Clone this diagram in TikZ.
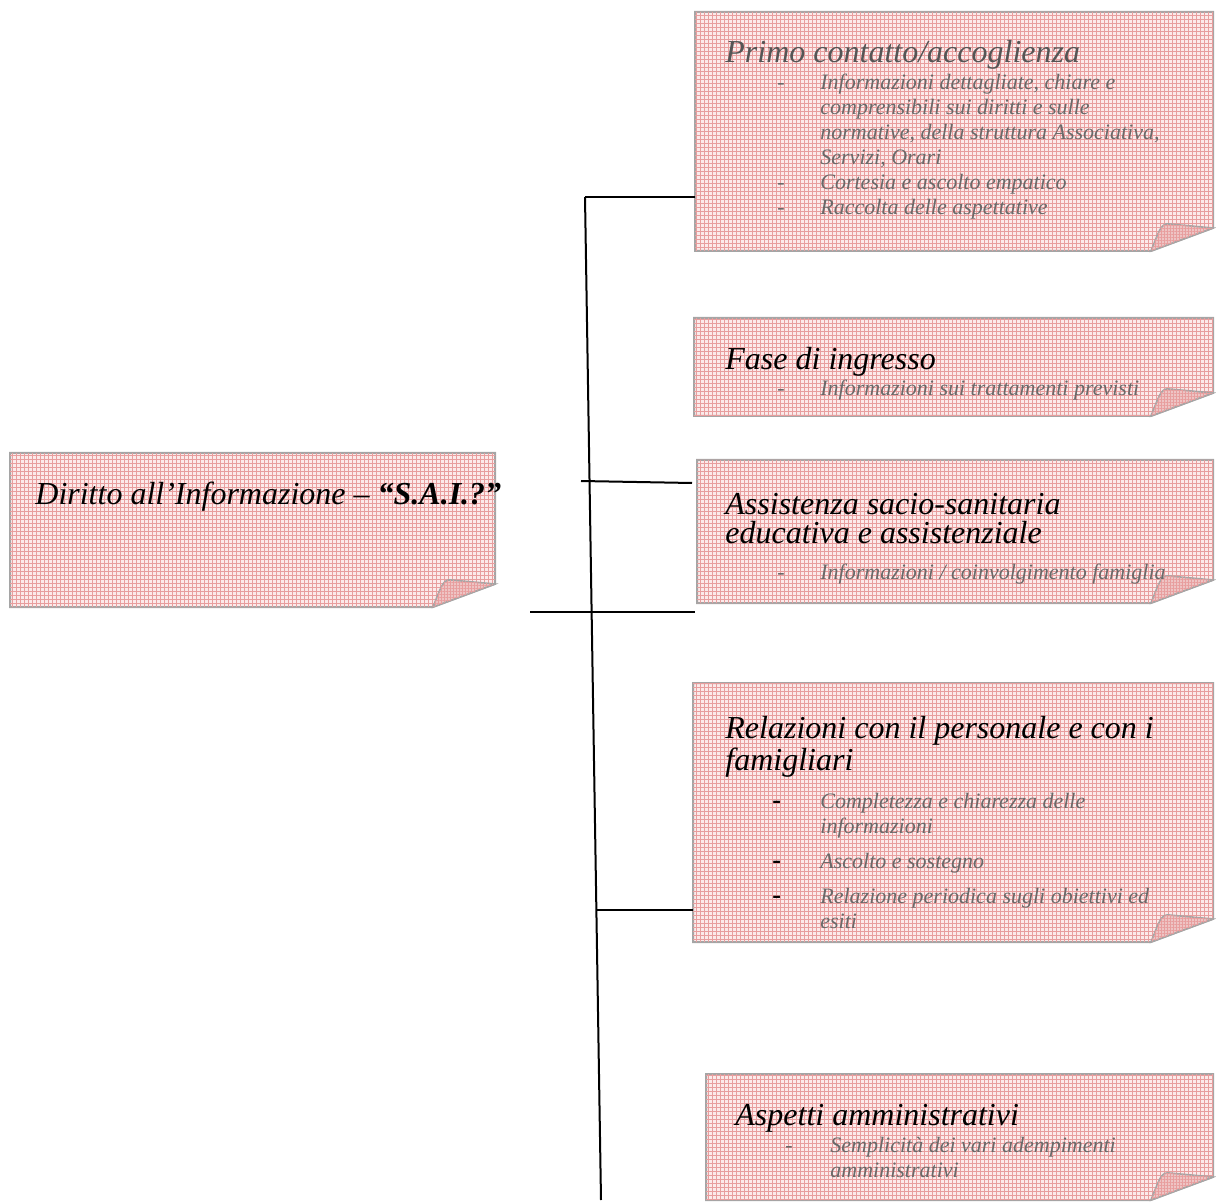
\documentclass[tikz,border=0pt]{standalone}
\usepackage{fontspec}
\setmainfont{Liberation Serif}
\usetikzlibrary{patterns.meta}

\definecolor{carta}{RGB}{252,234,234}
\definecolor{quadretti}{RGB}{232,158,158}
\definecolor{piegacol}{RGB}{238,196,196}
\definecolor{bordo}{RGB}{165,165,165}
\definecolor{grigiotesto}{RGB}{105,105,105}
\definecolor{grigioscuro}{RGB}{85,85,85}

\newcommand{\trattino}{\makebox[21.5pt][l]{-}}
\newcommand{\rientro}{\hspace*{21.5pt}}
\newcommand{\trattinonero}{\makebox[24pt][l]{\color{black}\upshape\bfseries\fontsize{13}{12.5}\selectfont -}}
\newcommand{\rientrolungo}{\hspace*{24pt}}

% foglio con angolo piegato: nome, x sinistra, y alto, x destra, y basso
\newcommand{\foglio}[5]{%
  \coordinate (#1-nw) at (#2,#3);
  \coordinate (#1-se) at (#4,#5);
  \path[foglio] (#2,#3) -- (#4,#3) -- (#4,#5-23) -- (#4-62,#5) -- (#2,#5) -- cycle;
  \path[piega] (#4-62,#5) .. controls (#4-54,#5-20) and (#4-52,#5-28) .. (#4-44,#5-27) -- (#4,#5-23) -- cycle;
}

\tikzset{
  foglio/.style={draw=bordo, line width=1pt, fill=carta,
    postaction={pattern={Hatch[angle=0,distance=2pt,line width=0.35pt]}, pattern color=quadretti}},
  piega/.style={draw=bordo, line width=0.8pt, fill=piegacol,
    postaction={pattern={Hatch[angle=0,distance=1.5pt,line width=0.35pt]}, pattern color=quadretti}},
  % ancorati alla linea di base dell'ultima riga
  titolo/.style={anchor=base west, inner sep=0pt, align=left,
    font=\fontsize{16}{14.5}\selectfont\itshape},
  voce/.style={anchor=base west, inner sep=0pt, align=left, text=grigiotesto,
    font=\fontsize{11}{12.5}\selectfont\itshape},
  ramo/.style={line width=1pt, black}
}

\begin{document}
\begin{tikzpicture}[x=0.5pt,y=-0.5pt]
  \useasboundingbox (0,0) rectangle (1216,1203);

  % fogli
  \foglio{radice}{10}{453}{495}{607}
  \foglio{primo}{695}{12}{1213}{251}
  \foglio{ingresso}{694}{318}{1213}{416}
  \foglio{assistenza}{697}{460}{1213}{603}
  \foglio{relazioni}{693}{683}{1213}{942}
  \foglio{aspetti}{706}{1074}{1213}{1200}

  % testi
  \node[titolo] (t-radice) at (35,505) {Diritto all’Informazione – \textbf{“S.A.I.?”}};

  \node[titolo, text=grigioscuro] (t-primo) at (725,63) {Primo contatto/accoglienza};
  \node[voce] (v-primo) at (777,215) {\trattino Informazioni dettagliate, chiare e\\
    \rientro comprensibili sui diritti e sulle\\
    \rientro normative, della struttura Associativa,\\
    \rientro Servizi, Orari\\
    \trattino Cortesia e ascolto empatico\\
    \trattino Raccolta delle aspettative};

  \node[titolo] (t-ingresso) at (725,370) {Fase di ingresso};
  \node[voce] (v-ingresso) at (777,396) {\trattino Informazioni sui trattamenti previsti};

  \node[titolo] (t-assistenza) at (725,544) {Assistenza sacio-sanitaria\\ educativa e assistenziale};
  \node[voce] (v-assistenza) at (777,580) {\trattino Informazioni / coinvolgimento famiglia};

  \node[titolo] (t-relazioni) at (725,770) {Relazioni con il personale e con i\\ famigliari};
  \node[voce] (v-relazioni) at (772,928) {\trattinonero Completezza e chiarezza delle\\
    \rientrolungo informazioni\\[5pt]
    \trattinonero Ascolto e sostegno\\[5pt]
    \trattinonero Relazione periodica sugli obiettivi ed\\
    \rientrolungo esiti};

  \node[titolo] (t-aspetti) at (735,1125) {Aspetti amministrativi};
  \node[voce] (v-aspetti) at (785,1177) {\makebox[22.5pt][l]{-}Semplicità dei vari adempimenti\\
    \hspace*{22.5pt}amministrativi};

  % rami
  \coordinate (asse-alto) at (585,197);
  \coordinate (asse-basso) at (601,1200);
  \draw[ramo] (asse-alto) -- (asse-basso);
  \draw[ramo] (asse-alto) -- (asse-alto -| primo-nw);

  \coordinate (ramo-a) at (581,481);
  \coordinate (ramo-a-fine) at (692,483);
  \draw[ramo] (ramo-a) -- (ramo-a-fine);

  \coordinate (ramo-b) at (530,612);
  \coordinate (ramo-b-fine) at (695,612);
  \draw[ramo] (ramo-b) -- (ramo-b-fine);

  \coordinate (ramo-c) at (597,910);
  \draw[ramo] (ramo-c) -- (ramo-c -| relazioni-nw);
\end{tikzpicture}
\end{document}
